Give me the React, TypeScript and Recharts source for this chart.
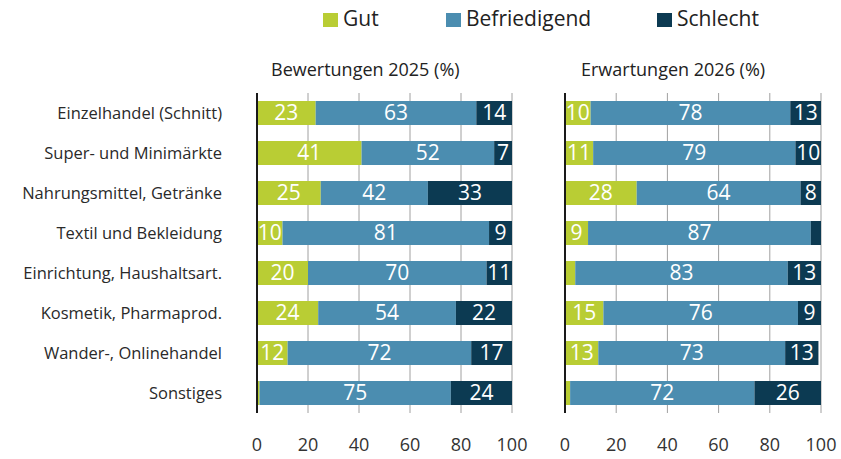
import React from "react";
import {
  BarChart,
  Bar,
  XAxis,
  YAxis,
  CartesianGrid,
  ReferenceLine,
  LabelList
} from "recharts";

const categories = [
  "Einzelhandel (Schnitt)",
  "Super- und Minimärkte",
  "Nahrungsmittel, Getränke",
  "Textil und Bekleidung",
  "Einrichtung, Haushaltsart.",
  "Kosmetik, Pharmaprod.",
  "Wander-, Onlinehandel",
  "Sonstiges"
];

// Bewertungen 2025
const gut2025 = [23, 41, 25, 10, 20, 24, 12, 1];
const befr2025 = [63, 52, 42, 81, 70, 54, 72, 75];
const schl2025 = [14, 7, 33, 9, 11, 22, 17, 24];

// Erwartungen 2026
const gut2026 = [10, 11, 28, 9, 4, 15, 13, 2];
const befr2026 = [78, 79, 64, 87, 83, 76, 73, 72];
const schl2026 = [13, 10, 8, 4, 13, 9, 13, 26];

const xTicks = [0, 20, 40, 60, 80, 100];

const GREEN = "#b9cd34";
const BLUE = "#4b8db0";
const DARK = "#0c3a52";
const FONT = "'Open Sans', sans-serif";

const build = (g: number[], b: number[], s: number[]) =>
  categories.map((name, i) => ({ name, gut: g[i], befr: b[i], schl: s[i] }));

const data2025 = build(gut2025, befr2025, schl2025);
const data2026 = build(gut2026, befr2026, schl2026);

// small segments carry no label
const fmt = (v: any) => (Number(v) >= 5 ? String(v) : "");

const series = [
  { key: "gut", color: GREEN },
  { key: "befr", color: BLUE },
  { key: "schl", color: DARK }
];

const Panel = ({ data, showCats }: { data: any[]; showCats: boolean }) => (
  <BarChart
    width={showCats ? 530 : 301}
    height={459}
    data={data}
    layout="vertical"
    barCategoryGap="20%"
    margin={{ top: 93, right: showCats ? 18 : 20, left: showCats ? 0 : 25, bottom: 0 }}
  >
    <CartesianGrid horizontal={false} stroke="#a0a0a0" />
    <XAxis
      type="number"
      domain={[0, 100]}
      ticks={xTicks}
      allowDataOverflow
      axisLine={false}
      tickLine={false}
      tickSize={0}
      tickMargin={25}
      height={46}
      tick={{ fontSize: 18, fill: "#333", fontFamily: FONT }}
    />
    <YAxis
      type="category"
      dataKey="name"
      width={showCats ? 257 : 0}
      axisLine={false}
      tickLine={false}
      tickSize={0}
      tickMargin={35}
      tick={showCats ? { fontSize: 16.5, fill: "#2a2a2a", fontFamily: FONT } : false}
    />
    {series.map((s) => (
      <Bar key={s.key} dataKey={s.key} stackId="a" fill={s.color} isAnimationActive={false}>
        <LabelList
          dataKey={s.key}
          position="center"
          formatter={fmt}
          fill="#fff"
          fontSize={21}
          fontFamily={FONT}
        />
      </Bar>
    ))}
    <ReferenceLine x={0} stroke="#1a1a1a" strokeWidth={2} />
  </BarChart>
);

const legendItems = [
  { label: "Gut", color: GREEN, left: 323 },
  { label: "Befriedigend", color: BLUE, left: 446 },
  { label: "Schlecht", color: DARK, left: 657 }
];

export default function App() {
  return (
    <div
      style={{
        position: "absolute",
        left: 0,
        top: 0,
        width: 841,
        height: 459,
        background: "#fff",
        fontFamily: FONT
      }}
    >
      {legendItems.map((it) => (
        <React.Fragment key={it.label}>
          <div
            style={{
              position: "absolute",
              left: it.left,
              top: 13,
              width: 15,
              height: 14,
              background: it.color
            }}
          />
          <div
            style={{
              position: "absolute",
              left: it.left + 20,
              top: 8,
              fontSize: 21,
              lineHeight: "21px",
              color: "#222",
              whiteSpace: "nowrap"
            }}
          >
            {it.label}
          </div>
        </React.Fragment>
      ))}
      <div
        style={{ position: "absolute", left: 271, top: 60, fontSize: 18, lineHeight: "18px", color: "#222", whiteSpace: "nowrap" }}
      >
        Bewertungen 2025 (%)
      </div>
      <div
        style={{ position: "absolute", left: 581, top: 60, fontSize: 18, lineHeight: "18px", color: "#222", whiteSpace: "nowrap" }}
      >
        Erwartungen 2026 (%)
      </div>
      <div style={{ position: "absolute", left: 0, top: 0 }}>
        <Panel data={data2025} showCats={true} />
      </div>
      <div style={{ position: "absolute", left: 540, top: 0 }}>
        <Panel data={data2026} showCats={false} />
      </div>
    </div>
  );
}
